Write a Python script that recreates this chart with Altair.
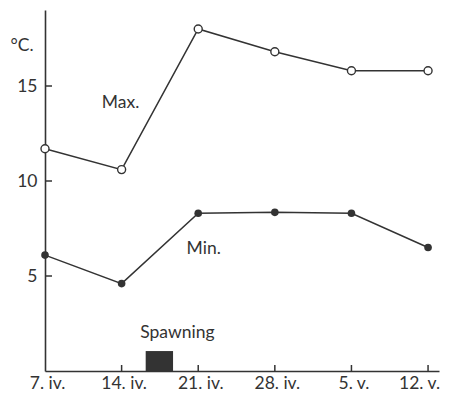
import altair as alt
import pandas as pd

# data
date_labels = ["7. iv.", "14. iv.", "21. iv.", "28. iv.", "5. v.", "12. v."]
days = [0, 7, 14, 21, 28, 35]
max_temp = [11.7, 10.6, 18.0, 16.8, 15.8, 15.8]
min_temp = [6.1, 4.6, 8.3, 8.35, 8.3, 6.5]
spawn_start, spawn_end, spawn_height = 9.2, 11.7, 1.05
y_ticks = [5, 10, 15]
x_ticks = [7, 14, 21, 28, 35]

INK = "#333333"
FONT = "Lato"
FS = 17.5

df = pd.DataFrame({"day": days, "label": date_labels, "max": max_temp, "min": min_temp})

label_map = "{" + ",".join(f"'{d}':'{l}'" for d, l in zip(days, date_labels)) + "}"

xscale = alt.Scale(domain=[0, 36], nice=False, zero=False)
yscale = alt.Scale(domain=[0, 19], nice=False)

xenc = alt.X("day:Q", scale=xscale, axis=alt.Axis(
    values=days, labelExpr=f"{label_map}[datum.value]", ticks=False, grid=False,
    domainColor=INK, domainWidth=1.6, labelFont=FONT, labelFontSize=FS, labelColor=INK,
    labelPadding=3, title=None, labelOverlap=False, labelFlush=False,
    labelOffset=alt.condition(f"datum.value == {days[-1]}", alt.value(-9), alt.value(2))))
yaxis = alt.Axis(values=y_ticks, ticks=False, grid=False, domainColor=INK, domainWidth=1.6,
                 labelFont=FONT, labelFontSize=FS, labelColor=INK, labelPadding=8,
                 title="°C.", titleAngle=0, titleFont=FONT, titleFontSize=FS,
                 titleFontWeight="normal", titleColor=INK, titleX=-35, titleY=44,
                 titleAlign="left")

base = alt.Chart(df)

max_line = base.mark_line(color=INK, strokeWidth=1.5).encode(
    x=xenc, y=alt.Y("max:Q", scale=yscale, axis=yaxis))
max_pts = base.mark_point(shape="circle", filled=False, fill="white", fillOpacity=1,
                          stroke=INK, strokeWidth=1.4, size=64, opacity=1).encode(
    x="day:Q", y="max:Q")
min_line = base.mark_line(color=INK, strokeWidth=1.5).encode(x="day:Q", y=alt.Y("min:Q", scale=yscale))
min_pts = base.mark_circle(color=INK, size=58, opacity=1).encode(x="day:Q", y="min:Q")

spawn_df = pd.DataFrame({"x": [spawn_start], "x2": [spawn_end], "y": [0], "y2": [spawn_height]})
spawn = alt.Chart(spawn_df).mark_rect(color=INK).encode(
    x="x:Q", x2="x2:Q", y="y:Q", y2="y2:Q")

ytick_df = pd.DataFrame({"v": y_ticks})
yticks = alt.Chart(ytick_df).mark_rule(color=INK, strokeWidth=1.5).encode(
    y="v:Q", x=alt.value(0), x2=alt.value(7))
xtick_df = pd.DataFrame({"v": x_ticks})
xticks = alt.Chart(xtick_df).mark_rule(color=INK, strokeWidth=1.5).encode(
    x="v:Q", y=alt.value(361), y2=alt.value(355))

ann_df = pd.DataFrame({
    "x": [6.9, 14.5, 12.1],
    "y": [14.1, 6.4, 2.0],
    "t": ["Max.", "Min.", "Spawning"],
})
ann = alt.Chart(ann_df).mark_text(font=FONT, fontSize=FS, color=INK, align="center", baseline="middle").encode(
    x="x:Q", y="y:Q", text="t:N")

chart = alt.layer(max_line, min_line, spawn, yticks, xticks, max_pts, min_pts, ann).properties(
    width=394, height=361,
    padding={"left": 37, "top": 2, "right": 2, "bottom": 20},
    autosize=alt.AutoSizeParams(type="none"),
    background="white",
).configure_view(stroke=None)

chart.save("out.html", embed_options={"renderer": "svg", "actions": False})
